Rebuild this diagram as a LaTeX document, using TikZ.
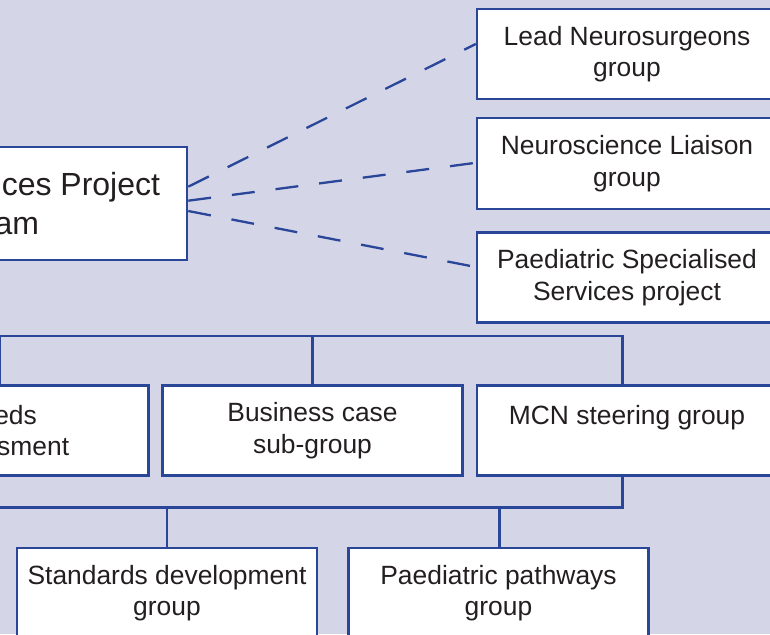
\documentclass[tikz,border=0pt]{standalone}
\usepackage{fontspec}
\setmainfont{Liberation Sans}
\definecolor{bgc}{RGB}{213,213,232}
\definecolor{linec}{RGB}{42,70,152}
\definecolor{textc}{RGB}{35,31,32}
\tikzset{
  box/.style={draw=linec, fill=white, line width=2.5pt, minimum width=300pt,
    minimum height=90pt, inner sep=0pt, align=center, text=textc,
    font=\fontsize{26.4}{31.5}\selectfont},
  bigbox/.style={box, minimum width=374pt, minimum height=113pt,
    font=\fontsize{32}{38.5}\selectfont},
  tie/.style={draw=linec, line width=2.5pt},
  dashtie/.style={draw=linec, line width=2.3pt, dash pattern=on 23pt off 21pt},
}
\begin{document}
\begin{tikzpicture}[x=1pt,y=-1pt]
\useasboundingbox (0,0) rectangle (770,634);
\clip (0,0) rectangle (770,634);
\fill[bgc] (0,0) rectangle (770,634);

% top-right groups
\node[box] (lead) at (627,54) {Lead Neurosurgeons\\group};
\node[box, minimum height=91pt] (liaison) at (627,163.5) {Neuroscience Liaison\\group};
\node[box] (paed) at (627,277.5) {Paediatric Specialised\\Services project};

% project team
\node[bigbox] (title) at (0,203.7) {Neurosciences Project\\Team};

% second row
\node[box] (needs) at (-1.3,430.6) {Needs\\assessment};
\node[box] (business) at (312.5,430.6) {Business case\\sub-group};
\node[box] (mcn) at (627,430.6) {MCN steering group\\\mbox{}};

% third row
\node[box] (standards) at (167,593) {Standards development\\group};
\node[box] (pathways) at (498.5,593) {Paediatric pathways\\group};

% bus coordinates
\coordinate (busleft) at (-200,336);
\coordinate (lowleft) at (-200,507.7);

% dashed links
\draw[dashtie] ([yshift=17pt]title.east) -- ([yshift=10pt]lead.west);
\draw[dashtie] ([yshift=3pt]title.east) -- ([yshift=0.7pt]liaison.west);
\draw[dashtie] ([yshift=-7.3pt]title.east) -- ([yshift=10.5pt]paed.west);

% upper bus
\draw[tie] (busleft) -| ([xshift=-4.3pt]mcn.north);
\draw[tie] ([xshift=1.3pt]needs.north) -- ([xshift=1.3pt]needs.north |- busleft);
\draw[tie] (business.north) -- (business.north |- busleft);

% lower bus
\draw[tie] ([xshift=-4.3pt]mcn.south) |- (lowleft);
\draw[tie] (standards.north) -- (standards.north |- lowleft);
\draw[tie] ([xshift=1pt]pathways.north) -- ([xshift=1pt]pathways.north |- lowleft);
\end{tikzpicture}
\end{document}
